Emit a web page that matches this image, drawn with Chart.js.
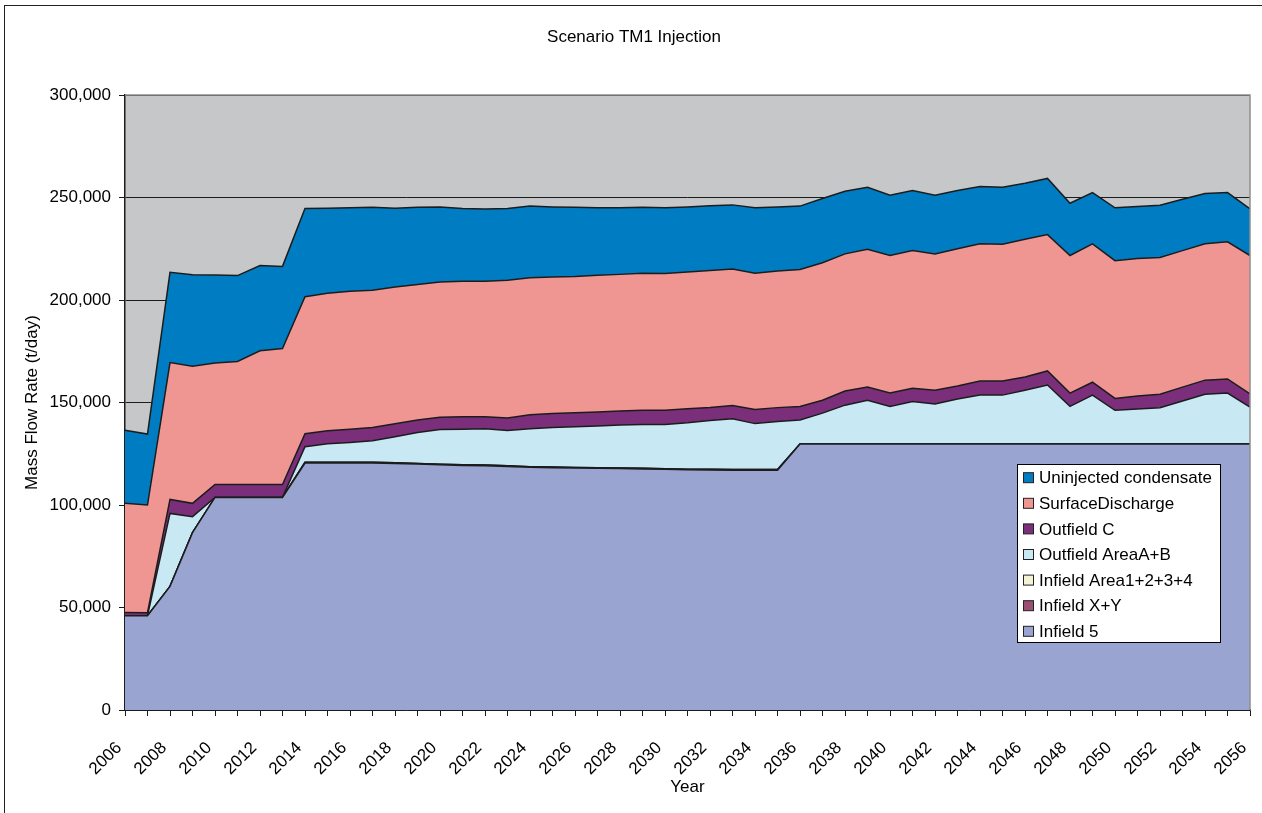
<!DOCTYPE html>
<html>
<head>
<meta charset="utf-8">
<title>Scenario TM1 Injection</title>
<script src="https://cdn.jsdelivr.net/npm/chart.js@4.4.1/dist/chart.umd.min.js"></script>
<style>
    html, body { margin: 0; padding: 0; background: #fff; }
    #wrap { width: 1262px; height: 813px; }
</style>
</head>
<body>
<div id="wrap"><canvas id="chart" width="1262" height="813"></canvas></div>
<script>
const years = [
    '2006', '2007', '2008', '2009', '2010', '2011', '2012', '2013', '2014', '2015',
    '2016', '2017', '2018', '2019', '2020', '2021', '2022', '2023', '2024', '2025',
    '2026', '2027', '2028', '2029', '2030', '2031', '2032', '2033', '2034', '2035',
    '2036', '2037', '2038', '2039', '2040', '2041', '2042', '2043', '2044', '2045',
    '2046', '2047', '2048', '2049', '2050', '2051', '2052', '2053', '2054', '2055',
    '2056'
];

// t/day per series, one value per year
const infield5 = [
    46000, 46000, 60300, 86500, 103700, 103700, 103700, 103700, 120500, 120500,
    120500, 120500, 120300, 120000, 119600, 119300, 119200, 118800, 118400, 118200,
    118000, 117900, 117800, 117600, 117400, 117200, 117100, 117000, 117000, 117000,
    129700, 129700, 129700, 129700, 129700, 129700, 129700, 129700, 129700, 129700,
    129700, 129700, 129700, 129700, 129700, 129700, 129700, 129700, 129700, 129700,
    129700
];
const infieldXY = [
    0, 0, 0, 0, 0, 0, 0, 0, 300, 300,
    300, 300, 300, 300, 300, 300, 300, 300, 300, 300,
    300, 300, 300, 300, 300, 300, 300, 300, 300, 300,
    0, 0, 0, 0, 0, 0, 0, 0, 0, 0,
    0, 0, 0, 0, 0, 0, 0, 0, 0, 0,
    0
];
const infieldArea1234 = [
    0, 0, 0, 0, 0, 0, 0, 0, 0, 0,
    0, 0, 0, 0, 0, 0, 0, 0, 0, 0,
    0, 0, 0, 0, 0, 0, 0, 0, 0, 0,
    0, 0, 0, 0, 0, 0, 0, 0, 0, 0,
    0, 0, 0, 0, 0, 0, 0, 0, 0, 0,
    0
];
const outfieldAB = [
    0, 0, 35600, 7800, 0, 0, 0, 0, 7600, 9100,
    9700, 10500, 12700, 15100, 16900, 17400, 17700, 17200, 18500, 19300,
    19900, 20300, 20900, 21400, 21600, 22600, 23800, 24800, 22400, 23400,
    11800, 15100, 19000, 21400, 18400, 20800, 19600, 22000, 23900, 23900,
    26300, 28800, 18400, 23900, 16500, 17100, 17700, 21000, 24300, 24900,
    18000
];
const outfieldC = [
    1600, 1500, 6800, 6500, 6300, 6300, 6300, 6300, 6400, 6300,
    6500, 6500, 6300, 6100, 6000, 6000, 5800, 6200, 6800, 6800,
    6800, 6900, 6900, 6900, 6900, 6900, 6400, 6400, 6900, 6800,
    6600, 6300, 6900, 6400, 6500, 6500, 6700, 6400, 6900, 6900,
    6400, 6900, 6500, 6300, 5800, 6400, 6600, 6800, 6900, 6900,
    6500
];
const surfaceDischarge = [
    53200, 52500, 66800, 66900, 59300, 60000, 65200, 66300, 66800, 67100,
    67300, 66900, 66700, 66100, 66000, 66200, 66200, 67100, 66800, 66600,
    66500, 66700, 66600, 66800, 66700, 66700, 66800, 66600, 66500, 66600,
    66800, 67100, 66900, 67200, 67100, 67100, 66500, 66900, 66900, 66700,
    67200, 66500, 67100, 67500, 67200, 67000, 66700, 66600, 66500, 66900,
    67500
];
const uninjected = [
    35700, 34600, 44000, 44600, 42900, 41900, 41600, 40100, 43000, 41500,
    40700, 40500, 38500, 37600, 36600, 35400, 35200, 35000, 35000, 34200,
    33700, 32900, 32500, 32200, 32100, 31700, 31600, 31300, 31900, 31300,
    30900, 31300, 30500, 30300, 29400, 29300, 28600, 28400, 28000, 27800,
    27400, 27400, 25500, 25000, 25800, 25400, 25500, 25000, 24600, 24000,
    22700
];

const FONT = "'Liberation Sans', Arial, sans-serif";
const LINE = '#1c1c1c';

function area(label, data, color, fill) {
    return {
        label: label,
        data: data,
        backgroundColor: color,
        borderColor: LINE,
        borderWidth: 1.5,
        pointRadius: 0,
        tension: 0,
        fill: fill
    };
}

// Page background, outer frame, plot background, title and plot border
const framePlugin = {
    id: 'frame',
    beforeDraw(chart) {
        const { ctx, chartArea: a } = chart;
        ctx.save();
        ctx.fillStyle = '#fff';
        ctx.fillRect(0, 0, chart.width, chart.height);
        ctx.strokeStyle = '#222';
        ctx.lineWidth = 1;
        ctx.strokeRect(4.5, 5.5, chart.width + 10, chart.height + 10);
        ctx.fillStyle = '#c6c7c9';
        ctx.fillRect(a.left, a.top, a.right - a.left, a.bottom - a.top);
        ctx.fillStyle = '#000';
        ctx.font = '17px ' + FONT;
        ctx.textAlign = 'center';
        ctx.textBaseline = 'middle';
        ctx.fillText('Scenario TM1 Injection', 634, 37);
        ctx.restore();
    },
    afterDatasetsDraw(chart) {
        const { ctx, chartArea: a } = chart;
        ctx.save();
        ctx.strokeStyle = '#8e8e8e';
        ctx.lineWidth = 1.5;
        ctx.beginPath();
        ctx.moveTo(a.left, a.top);
        ctx.lineTo(a.right, a.top);
        ctx.lineTo(a.right, a.bottom);
        ctx.stroke();
        ctx.restore();
    }
};

// Boxed legend inside the plot, series listed top to bottom in reverse order
const boxLegend = {
    id: 'boxLegend',
    afterDraw(chart) {
        const ctx = chart.ctx;
        const x = 1017.5, y = 464.5, w = 203, h = 178;
        ctx.save();
        ctx.fillStyle = '#fff';
        ctx.fillRect(x, y, w, h);
        ctx.strokeStyle = '#000';
        ctx.lineWidth = 1;
        ctx.strokeRect(x, y, w, h);
        ctx.font = '17px ' + FONT;
        ctx.textBaseline = 'middle';
        const sets = chart.data.datasets.slice().reverse();
        sets.forEach((ds, i) => {
            const cy = 477.7 + i * 25.6;
            ctx.fillStyle = ds.backgroundColor;
            ctx.fillRect(1023.5, cy - 5, 10, 10);
            ctx.strokeStyle = '#222';
            ctx.strokeRect(1023.5, cy - 5, 10, 10);
            ctx.fillStyle = '#000';
            ctx.fillText(ds.label, 1039, cy + 1);
        });
        ctx.restore();
    }
};

new Chart(document.getElementById('chart'), {
    type: 'line',
    data: {
        labels: years,
        datasets: [
            area('Infield 5', infield5, '#99a4d0', 'origin'),
            area('Infield X+Y', infieldXY, '#9b4f72', '-1'),
            area('Infield Area1+2+3+4', infieldArea1234, '#f3f3d6', '-1'),
            area('Outfield AreaA+B', outfieldAB, '#c8e8f4', '-1'),
            area('Outfield C', outfieldC, '#7b2f7b', '-1'),
            area('SurfaceDischarge', surfaceDischarge, '#f09692', '-1'),
            area('Uninjected condensate', uninjected, '#007cc3', '-1')
        ]
    },
    options: {
        responsive: false,
        animation: false,
        devicePixelRatio: 1,
        layout: { padding: { left: 0, right: 12, top: 95, bottom: 0 } },
        plugins: {
            legend: { display: false },
            tooltip: { enabled: false },
            title: { display: false }
        },
        scales: {
            x: {
                offset: false,
                grid: {
                    drawOnChartArea: false,
                    drawTicks: true,
                    tickLength: 6,
                    color: LINE
                },
                border: { color: LINE, width: 1.5 },
                ticks: {
                    autoSkip: false,
                    maxRotation: 45,
                    minRotation: 45,
                    padding: 22,
                    labelOffset: -6,
                    color: '#000',
                    font: { family: FONT, size: 17 },
                    callback: function(val, idx) {
                        return idx % 2 === 0 ? years[idx] : '';
                    }
                },
                title: {
                    display: true,
                    text: 'Year',
                    color: '#000',
                    font: { family: FONT, size: 17 },
                    padding: { top: 0, bottom: 15 }
                },
                afterFit: function(scale) {
                    scale.height = 103;
                    scale.paddingLeft = 0;
                    scale.paddingRight = 0;
                }
            },
            y: {
                stacked: true,
                min: 0,
                max: 300000,
                grid: {
                    color: LINE,
                    lineWidth: 1,
                    tickLength: 6
                },
                border: { color: LINE, width: 1.5 },
                ticks: {
                    stepSize: 50000,
                    padding: 8,
                    color: '#000',
                    font: { family: FONT, size: 17 },
                    callback: function(v) { return v.toLocaleString('en-US'); }
                },
                title: {
                    display: true,
                    text: 'Mass Flow Rate (t/day)',
                    color: '#000',
                    font: { family: FONT, size: 17 },
                    padding: { top: 22, bottom: 0 }
                },
                afterFit: function(scale) {
                    scale.width = 125;
                    scale.paddingTop = 0;
                    scale.paddingBottom = 0;
                }
            }
        }
    },
    plugins: [framePlugin, boxLegend]
});
</script>
</body>
</html>
